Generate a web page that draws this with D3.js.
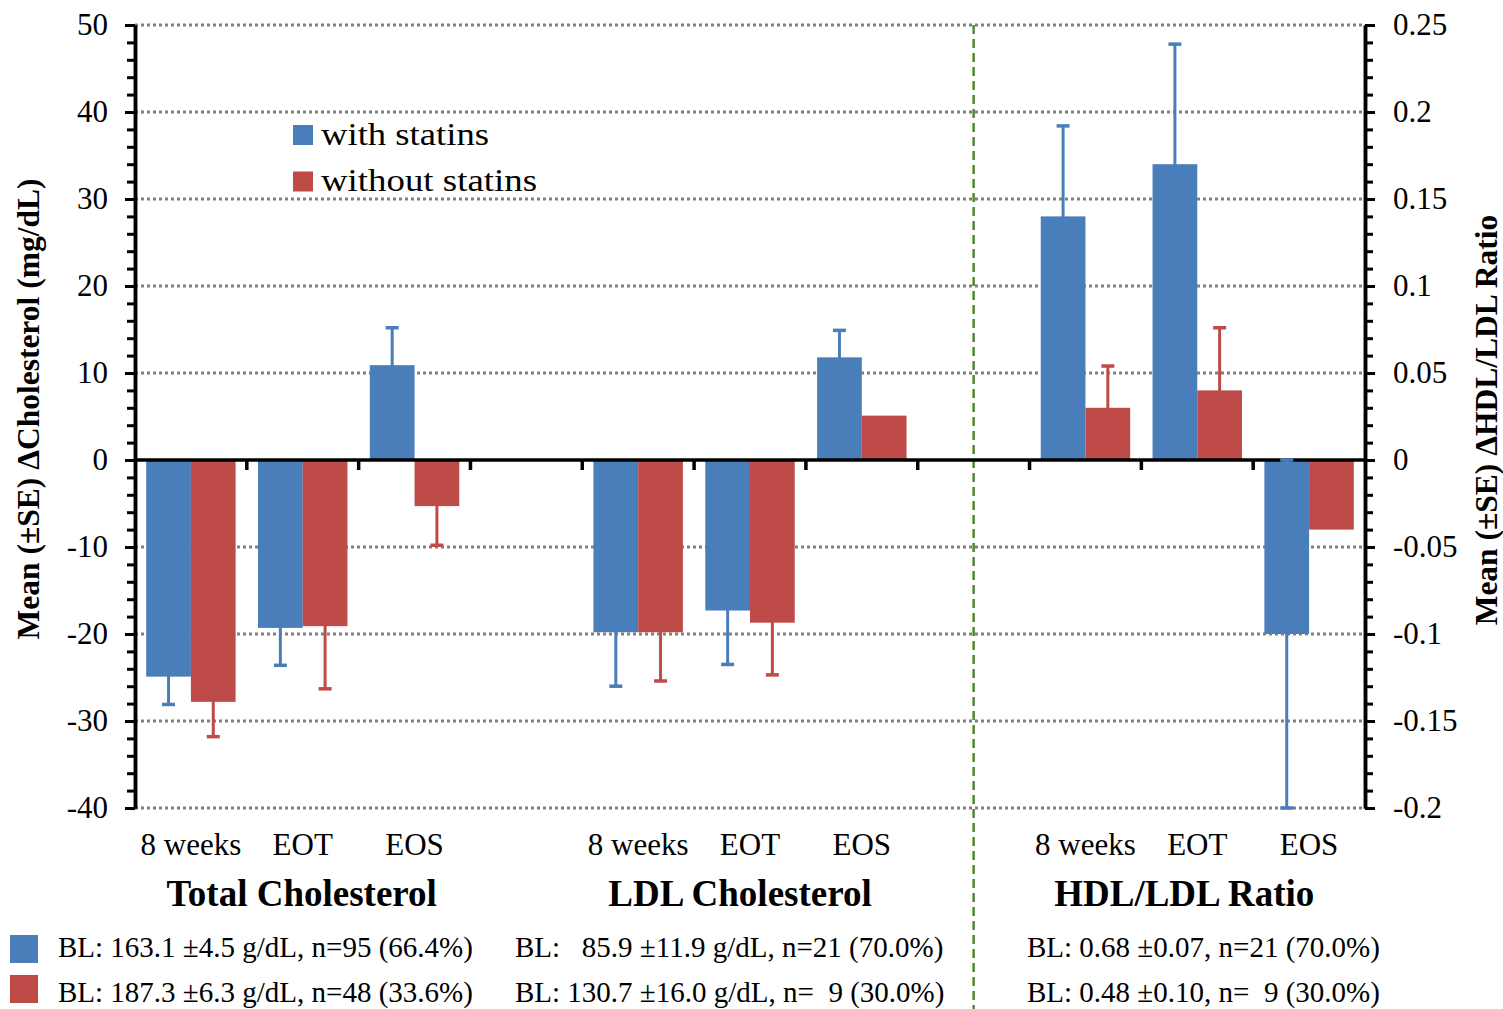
<!DOCTYPE html>
<html><head><meta charset="utf-8">
<script src="https://cdn.jsdelivr.net/npm/d3@7"></script>
<style>
body{margin:0;background:#fff}
text{font-family:"Liberation Serif","Times New Roman",serif;}
</style>
</head><body><svg id="c" width="1503" height="1009"></svg>
<script>
// ---------- data ----------
const groups = ["Total Cholesterol", "LDL Cholesterol", "HDL/LDL Ratio"];
const timepoints = ["8 weeks", "EOT", "EOS"];
const seriesNames = ["with statins", "without statins"];
const seriesColors = ["#4A7EBB", "#BE4B48"];
// order: TC(8w,EOT,EOS), LDL(8w,EOT,EOS), HDL/LDL(8w,EOT,EOS)
const withStatinsMean    = [-24.9, -19.3, 10.9, -19.8, -17.3, 11.8, 0.140, 0.170, -0.100];
const withStatinsSE      = [3.2, 4.3, 4.3, 6.2, 6.2, 3.1, 0.052, 0.069, 0.100];
const withoutStatinsMean = [-27.8, -19.1, -5.3, -19.8, -18.7, 5.1, 0.030, 0.040, -0.040];
const withoutStatinsSE   = [4.0, 7.2, 4.5, 5.6, 6.0, 0, 0.024, 0.036, 0];
const leftTicks  = [50, 40, 30, 20, 10, 0, -10, -20, -30, -40];
const rightTicks = [0.25, 0.2, 0.15, 0.1, 0.05, 0, -0.05, -0.1, -0.15, -0.2];
const leftTitle  = "Mean (±SE) ΔCholesterol (mg/dL)";
const rightTitle = "Mean (±SE) ΔHDL/LDL Ratio";
const baselineWith    = ["BL: 163.1 ±4.5 g/dL, n=95 (66.4%)", "BL:   85.9 ±11.9 g/dL, n=21 (70.0%)", "BL: 0.68 ±0.07, n=21 (70.0%)"];
const baselineWithout = ["BL: 187.3 ±6.3 g/dL, n=48 (33.6%)", "BL: 130.7 ±16.0 g/dL, n=  9 (30.0%)", "BL: 0.48 ±0.10, n=  9 (30.0%)"];

// ---------- layout ----------
const svg = d3.select("#c");
svg.append("rect").attr("width", 1503).attr("height", 1009).attr("fill", "#fff");
const L = 135, R = 1365, T = 25, B = 808;

const cats = [];
groups.forEach((g, gi) => {
  timepoints.forEach(t => cats.push(g + "|" + t));
  if (gi < groups.length - 1) cats.push("gap" + gi);
});
const x0 = d3.scaleBand().domain(cats).range([L, R]).padding(0);
const x1 = d3.scaleBand().domain(seriesNames).range([0, x0.bandwidth()]).paddingInner(0).paddingOuter(0.25);
const yL = d3.scaleLinear().domain([-40, 50]).range([B, T]);
const yR = d3.scaleLinear().domain([-0.2, 0.25]).range([B, T]);

const rows = [];
groups.forEach((g, gi) => timepoints.forEach((t, ti) => {
  const i = gi * 3 + ti;
  const sc = gi === 2 ? yR : yL;
  rows.push({cat: g + "|" + t, s: 0, mean: withStatinsMean[i], se: withStatinsSE[i], sc});
  rows.push({cat: g + "|" + t, s: 1, mean: withoutStatinsMean[i], se: withoutStatinsSE[i], sc});
}));

// gridlines
svg.append("g").selectAll("line").data(leftTicks.filter(d => d !== 0)).join("line")
  .attr("x1", L).attr("x2", R).attr("y1", d => yL(d)).attr("y2", d => yL(d))
  .attr("stroke", "#808080").attr("stroke-width", 3).attr("stroke-dasharray", "3,3");

// bars
svg.append("g").selectAll("rect").data(rows).join("rect")
  .attr("x", d => x0(d.cat) + x1(seriesNames[d.s]))
  .attr("width", x1.bandwidth())
  .attr("y", d => Math.min(d.sc(d.mean), d.sc(0)))
  .attr("height", d => Math.abs(d.sc(d.mean) - d.sc(0)))
  .attr("fill", d => seriesColors[d.s]);

// separator
const sepX = x0("gap1") + x0.bandwidth() / 2;
svg.append("line").attr("x1", sepX).attr("x2", sepX).attr("y1", T).attr("y2", 1009)
  .attr("stroke", "#4F8A2C").attr("stroke-width", 2.5).attr("stroke-dasharray", "9,5");

// axes
function styleAxis(g) {
  g.attr("font-family", null).attr("font-size", null);
  g.selectAll(".domain").attr("stroke", "#000").attr("stroke-width", 3.5);
  g.selectAll(".tick line").attr("stroke", "#000").attr("stroke-width", 3);
  g.selectAll(".tick text").attr("fill", "#000").style("font-size", "31px");
}
const minorL = d3.range(-40, 50.001, 2).filter(v => Math.abs(v % 10) > 0.001);
svg.append("g").attr("transform", `translate(${L},0)`)
  .call(d3.axisLeft(yL).tickValues(minorL).tickSize(8).tickSizeOuter(0).tickFormat(""))
  .call(styleAxis);
svg.append("g").attr("transform", `translate(${L},0)`)
  .call(d3.axisLeft(yL).tickValues(leftTicks).tickSize(10).tickSizeOuter(0).tickPadding(17).tickFormat(d => String(d)))
  .call(styleAxis);
const minorR = d3.range(-20, 25.001, 1).filter(v => Math.abs(v % 5) > 0.001).map(v => v / 100);
svg.append("g").attr("transform", `translate(${R},0)`)
  .call(d3.axisRight(yR).tickValues(minorR).tickSize(8).tickSizeOuter(0).tickFormat(""))
  .call(styleAxis);
svg.append("g").attr("transform", `translate(${R},0)`)
  .call(d3.axisRight(yR).tickValues(rightTicks).tickSize(10).tickSizeOuter(0).tickPadding(18).tickFormat(d => String(d)))
  .call(styleAxis);

// zero line + category boundary ticks
const y0 = yL(0);
svg.append("line").attr("x1", L).attr("x2", R).attr("y1", y0).attr("y2", y0)
  .attr("stroke", "#000").attr("stroke-width", 3.5);
svg.append("g").selectAll("line").data(cats.slice(0, -1)).join("line")
  .attr("x1", d => x0(d) + x0.bandwidth()).attr("x2", d => x0(d) + x0.bandwidth())
  .attr("y1", y0).attr("y2", y0 + 10).attr("stroke", "#000").attr("stroke-width", 3.5);

// error bars
const eb = svg.append("g");
rows.filter(d => d.se > 0).forEach(d => {
  const cx = x0(d.cat) + x1(seriesNames[d.s]) + x1.bandwidth() / 2;
  const a = d.sc(d.mean - d.se), b = d.sc(d.mean + d.se);
  const c = seriesColors[d.s];
  eb.append("line").attr("x1", cx).attr("x2", cx).attr("y1", a).attr("y2", b).attr("stroke", c).attr("stroke-width", 3);
  [a, b].forEach(yy => eb.append("line").attr("x1", cx - 6.5).attr("x2", cx + 6.5).attr("y1", yy).attr("y2", yy)
    .attr("stroke", c).attr("stroke-width", 3.5));
});

// category labels
svg.append("g").selectAll("text").data(cats.filter(c => !c.startsWith("gap"))).join("text")
  .attr("x", d => x0(d) + x0.bandwidth() / 2).attr("y", 855)
  .attr("text-anchor", "middle").style("font-size", "31px")
  .text(d => d.split("|")[1]);

// group titles
const titleShift = [-1, -10, -13];
svg.append("g").selectAll("text").data(groups).join("text")
  .attr("x", (d, i) => x0(d + "|EOT") + x0.bandwidth() / 2 + titleShift[i]).attr("y", 906)
  .attr("text-anchor", "middle").style("font-size", "37px").style("font-weight", "bold")
  .text(d => d);

// axis titles
svg.append("text").attr("transform", `translate(39,409) rotate(-90)`)
  .attr("text-anchor", "middle").style("font-size", "31.5px").style("font-weight", "bold").text(leftTitle);
svg.append("text").attr("transform", `translate(1497,420) rotate(-90)`)
  .attr("text-anchor", "middle").style("font-size", "31.5px").style("font-weight", "bold").text(rightTitle);

// legend
const leg = svg.append("g");
seriesNames.forEach((s, i) => {
  leg.append("rect").attr("x", 293).attr("y", 125 + i * 46.5).attr("width", 20).attr("height", 20).attr("fill", seriesColors[i]);
  leg.append("text").attr("x", 321).attr("y", 145 + i * 46)
    .style("font-size", "31px").attr("textLength", i === 0 ? 168 : 216).attr("lengthAdjust", "spacingAndGlyphs").text(s);
});

// baseline table
const colX = [58, 515, 1027];
[baselineWith, baselineWithout].forEach((arr, r) => {
  svg.append("rect").attr("x", 10).attr("y", 935 + r * 40).attr("width", 28).attr("height", 28).attr("fill", seriesColors[r]);
  arr.forEach((t, c) => {
    svg.append("text").attr("x", colX[c]).attr("y", 957 + r * 44.5)
      .style("font-size", "29px").style("white-space", "pre").text(t);
  });
});
</script>
</body></html>
